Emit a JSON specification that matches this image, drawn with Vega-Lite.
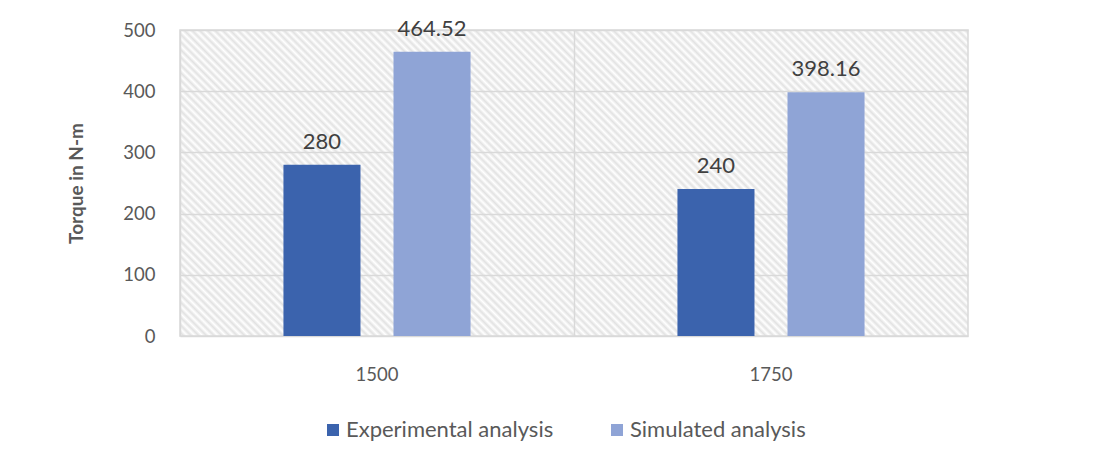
{
  "$schema": "https://vega.github.io/schema/vega-lite/v6.json",
  "width": 788,
  "height": 306,
  "autosize": {"type": "none"},
  "padding": {"left": 180, "top": 30, "right": 125, "bottom": 128},
  "background": "white",
  "view": {
    "stroke": "#d9d9d9",
    "strokeWidth": 1.5,
    "fill": {
      "gradient": "linear",
      "x1": 0, "y1": 1, "x2": 1.2064, "y2": 0.5311,
      "stops": [
        {"offset":0,"color":"#fff"},{"offset":0.0035,"color":"#e2e2e2"},
        {"offset":0.007,"color":"#fff"},{"offset":0.0105,"color":"#e2e2e2"},
        {"offset":0.014,"color":"#fff"},{"offset":0.0175,"color":"#e2e2e2"},
        {"offset":0.021,"color":"#fff"},{"offset":0.0245,"color":"#e2e2e2"},
        {"offset":0.028,"color":"#fff"},{"offset":0.0315,"color":"#e2e2e2"},
        {"offset":0.035,"color":"#fff"},{"offset":0.0385,"color":"#e2e2e2"},
        {"offset":0.042,"color":"#fff"},{"offset":0.0455,"color":"#e2e2e2"},
        {"offset":0.049,"color":"#fff"},{"offset":0.0525,"color":"#e2e2e2"},
        {"offset":0.056,"color":"#fff"},{"offset":0.0595,"color":"#e2e2e2"},
        {"offset":0.063,"color":"#fff"},{"offset":0.0665,"color":"#e2e2e2"},
        {"offset":0.07,"color":"#fff"},{"offset":0.0735,"color":"#e2e2e2"},
        {"offset":0.077,"color":"#fff"},{"offset":0.0805,"color":"#e2e2e2"},
        {"offset":0.084,"color":"#fff"},{"offset":0.0875,"color":"#e2e2e2"},
        {"offset":0.091,"color":"#fff"},{"offset":0.0945,"color":"#e2e2e2"},
        {"offset":0.098,"color":"#fff"},{"offset":0.1015,"color":"#e2e2e2"},
        {"offset":0.105,"color":"#fff"},{"offset":0.1085,"color":"#e2e2e2"},
        {"offset":0.112,"color":"#fff"},{"offset":0.1155,"color":"#e2e2e2"},
        {"offset":0.119,"color":"#fff"},{"offset":0.1225,"color":"#e2e2e2"},
        {"offset":0.126,"color":"#fff"},{"offset":0.1295,"color":"#e2e2e2"},
        {"offset":0.133,"color":"#fff"},{"offset":0.1365,"color":"#e2e2e2"},
        {"offset":0.14,"color":"#fff"},{"offset":0.1435,"color":"#e2e2e2"},
        {"offset":0.147,"color":"#fff"},{"offset":0.1505,"color":"#e2e2e2"},
        {"offset":0.154,"color":"#fff"},{"offset":0.1575,"color":"#e2e2e2"},
        {"offset":0.161,"color":"#fff"},{"offset":0.1645,"color":"#e2e2e2"},
        {"offset":0.168,"color":"#fff"},{"offset":0.1715,"color":"#e2e2e2"},
        {"offset":0.175,"color":"#fff"},{"offset":0.1785,"color":"#e2e2e2"},
        {"offset":0.182,"color":"#fff"},{"offset":0.1855,"color":"#e2e2e2"},
        {"offset":0.189,"color":"#fff"},{"offset":0.1925,"color":"#e2e2e2"},
        {"offset":0.196,"color":"#fff"},{"offset":0.1995,"color":"#e2e2e2"},
        {"offset":0.203,"color":"#fff"},{"offset":0.2065,"color":"#e2e2e2"},
        {"offset":0.21,"color":"#fff"},{"offset":0.2135,"color":"#e2e2e2"},
        {"offset":0.217,"color":"#fff"},{"offset":0.2205,"color":"#e2e2e2"},
        {"offset":0.224,"color":"#fff"},{"offset":0.2275,"color":"#e2e2e2"},
        {"offset":0.231,"color":"#fff"},{"offset":0.2345,"color":"#e2e2e2"},
        {"offset":0.238,"color":"#fff"},{"offset":0.2415,"color":"#e2e2e2"},
        {"offset":0.245,"color":"#fff"},{"offset":0.2485,"color":"#e2e2e2"},
        {"offset":0.252,"color":"#fff"},{"offset":0.2555,"color":"#e2e2e2"},
        {"offset":0.259,"color":"#fff"},{"offset":0.2625,"color":"#e2e2e2"},
        {"offset":0.266,"color":"#fff"},{"offset":0.2695,"color":"#e2e2e2"},
        {"offset":0.273,"color":"#fff"},{"offset":0.2765,"color":"#e2e2e2"},
        {"offset":0.28,"color":"#fff"},{"offset":0.2835,"color":"#e2e2e2"},
        {"offset":0.287,"color":"#fff"},{"offset":0.2905,"color":"#e2e2e2"},
        {"offset":0.294,"color":"#fff"},{"offset":0.2975,"color":"#e2e2e2"},
        {"offset":0.301,"color":"#fff"},{"offset":0.3045,"color":"#e2e2e2"},
        {"offset":0.308,"color":"#fff"},{"offset":0.3115,"color":"#e2e2e2"},
        {"offset":0.315,"color":"#fff"},{"offset":0.3185,"color":"#e2e2e2"},
        {"offset":0.322,"color":"#fff"},{"offset":0.3255,"color":"#e2e2e2"},
        {"offset":0.329,"color":"#fff"},{"offset":0.3325,"color":"#e2e2e2"},
        {"offset":0.336,"color":"#fff"},{"offset":0.3395,"color":"#e2e2e2"},
        {"offset":0.343,"color":"#fff"},{"offset":0.3465,"color":"#e2e2e2"},
        {"offset":0.35,"color":"#fff"},{"offset":0.3535,"color":"#e2e2e2"},
        {"offset":0.357,"color":"#fff"},{"offset":0.3605,"color":"#e2e2e2"},
        {"offset":0.364,"color":"#fff"},{"offset":0.3675,"color":"#e2e2e2"},
        {"offset":0.371,"color":"#fff"},{"offset":0.3745,"color":"#e2e2e2"},
        {"offset":0.378,"color":"#fff"},{"offset":0.3815,"color":"#e2e2e2"},
        {"offset":0.385,"color":"#fff"},{"offset":0.3885,"color":"#e2e2e2"},
        {"offset":0.392,"color":"#fff"},{"offset":0.3955,"color":"#e2e2e2"},
        {"offset":0.399,"color":"#fff"},{"offset":0.4025,"color":"#e2e2e2"},
        {"offset":0.406,"color":"#fff"},{"offset":0.4095,"color":"#e2e2e2"},
        {"offset":0.413,"color":"#fff"},{"offset":0.4165,"color":"#e2e2e2"},
        {"offset":0.42,"color":"#fff"},{"offset":0.4235,"color":"#e2e2e2"},
        {"offset":0.427,"color":"#fff"},{"offset":0.4305,"color":"#e2e2e2"},
        {"offset":0.434,"color":"#fff"},{"offset":0.4375,"color":"#e2e2e2"},
        {"offset":0.441,"color":"#fff"},{"offset":0.4445,"color":"#e2e2e2"},
        {"offset":0.448,"color":"#fff"},{"offset":0.4515,"color":"#e2e2e2"},
        {"offset":0.455,"color":"#fff"},{"offset":0.4585,"color":"#e2e2e2"},
        {"offset":0.462,"color":"#fff"},{"offset":0.4655,"color":"#e2e2e2"},
        {"offset":0.469,"color":"#fff"},{"offset":0.4725,"color":"#e2e2e2"},
        {"offset":0.476,"color":"#fff"},{"offset":0.4795,"color":"#e2e2e2"},
        {"offset":0.483,"color":"#fff"},{"offset":0.4865,"color":"#e2e2e2"},
        {"offset":0.49,"color":"#fff"},{"offset":0.4935,"color":"#e2e2e2"},
        {"offset":0.497,"color":"#fff"},{"offset":0.5005,"color":"#e2e2e2"},
        {"offset":0.504,"color":"#fff"},{"offset":0.5075,"color":"#e2e2e2"},
        {"offset":0.511,"color":"#fff"},{"offset":0.5145,"color":"#e2e2e2"},
        {"offset":0.518,"color":"#fff"},{"offset":0.5215,"color":"#e2e2e2"},
        {"offset":0.525,"color":"#fff"},{"offset":0.5285,"color":"#e2e2e2"},
        {"offset":0.532,"color":"#fff"},{"offset":0.5355,"color":"#e2e2e2"},
        {"offset":0.539,"color":"#fff"},{"offset":0.5425,"color":"#e2e2e2"},
        {"offset":0.546,"color":"#fff"},{"offset":0.5495,"color":"#e2e2e2"},
        {"offset":0.553,"color":"#fff"},{"offset":0.5565,"color":"#e2e2e2"},
        {"offset":0.56,"color":"#fff"},{"offset":0.5635,"color":"#e2e2e2"},
        {"offset":0.567,"color":"#fff"},{"offset":0.5705,"color":"#e2e2e2"},
        {"offset":0.574,"color":"#fff"},{"offset":0.5775,"color":"#e2e2e2"},
        {"offset":0.581,"color":"#fff"},{"offset":0.5845,"color":"#e2e2e2"},
        {"offset":0.588,"color":"#fff"},{"offset":0.5915,"color":"#e2e2e2"},
        {"offset":0.595,"color":"#fff"},{"offset":0.5985,"color":"#e2e2e2"},
        {"offset":0.602,"color":"#fff"},{"offset":0.6055,"color":"#e2e2e2"},
        {"offset":0.609,"color":"#fff"},{"offset":0.6125,"color":"#e2e2e2"},
        {"offset":0.616,"color":"#fff"},{"offset":0.6195,"color":"#e2e2e2"},
        {"offset":0.623,"color":"#fff"},{"offset":0.6265,"color":"#e2e2e2"},
        {"offset":0.63,"color":"#fff"},{"offset":0.6335,"color":"#e2e2e2"},
        {"offset":0.637,"color":"#fff"},{"offset":0.6405,"color":"#e2e2e2"},
        {"offset":0.644,"color":"#fff"},{"offset":0.6475,"color":"#e2e2e2"},
        {"offset":0.651,"color":"#fff"},{"offset":0.6545,"color":"#e2e2e2"},
        {"offset":0.658,"color":"#fff"},{"offset":0.6615,"color":"#e2e2e2"},
        {"offset":0.665,"color":"#fff"},{"offset":0.6685,"color":"#e2e2e2"},
        {"offset":0.672,"color":"#fff"},{"offset":0.6755,"color":"#e2e2e2"},
        {"offset":0.679,"color":"#fff"},{"offset":0.6825,"color":"#e2e2e2"},
        {"offset":0.686,"color":"#fff"},{"offset":0.6895,"color":"#e2e2e2"},
        {"offset":0.693,"color":"#fff"},{"offset":0.6965,"color":"#e2e2e2"},
        {"offset":0.7,"color":"#fff"},{"offset":0.7035,"color":"#e2e2e2"},
        {"offset":0.707,"color":"#fff"},{"offset":0.7105,"color":"#e2e2e2"},
        {"offset":0.714,"color":"#fff"},{"offset":0.7175,"color":"#e2e2e2"},
        {"offset":0.721,"color":"#fff"},{"offset":0.7245,"color":"#e2e2e2"},
        {"offset":0.728,"color":"#fff"},{"offset":0.7315,"color":"#e2e2e2"},
        {"offset":0.735,"color":"#fff"},{"offset":0.7385,"color":"#e2e2e2"},
        {"offset":0.742,"color":"#fff"},{"offset":0.7455,"color":"#e2e2e2"},
        {"offset":0.749,"color":"#fff"},{"offset":0.7525,"color":"#e2e2e2"},
        {"offset":0.756,"color":"#fff"},{"offset":0.7595,"color":"#e2e2e2"},
        {"offset":0.763,"color":"#fff"},{"offset":0.7665,"color":"#e2e2e2"},
        {"offset":0.77,"color":"#fff"},{"offset":0.7735,"color":"#e2e2e2"},
        {"offset":0.777,"color":"#fff"},{"offset":0.7805,"color":"#e2e2e2"},
        {"offset":0.784,"color":"#fff"},{"offset":0.7875,"color":"#e2e2e2"},
        {"offset":0.791,"color":"#fff"},{"offset":0.7945,"color":"#e2e2e2"},
        {"offset":0.798,"color":"#fff"},{"offset":0.8015,"color":"#e2e2e2"},
        {"offset":0.805,"color":"#fff"},{"offset":0.8085,"color":"#e2e2e2"},
        {"offset":0.812,"color":"#fff"},{"offset":0.8155,"color":"#e2e2e2"},
        {"offset":0.819,"color":"#fff"},{"offset":0.8225,"color":"#e2e2e2"},
        {"offset":0.826,"color":"#fff"},{"offset":0.8295,"color":"#e2e2e2"},
        {"offset":0.833,"color":"#fff"},{"offset":0.8365,"color":"#e2e2e2"},
        {"offset":0.84,"color":"#fff"},{"offset":0.8435,"color":"#e2e2e2"},
        {"offset":0.847,"color":"#fff"},{"offset":0.8505,"color":"#e2e2e2"},
        {"offset":0.854,"color":"#fff"},{"offset":0.8575,"color":"#e2e2e2"},
        {"offset":0.861,"color":"#fff"},{"offset":0.8645,"color":"#e2e2e2"},
        {"offset":0.868,"color":"#fff"},{"offset":0.8715,"color":"#e2e2e2"},
        {"offset":0.875,"color":"#fff"},{"offset":0.8785,"color":"#e2e2e2"},
        {"offset":0.882,"color":"#fff"},{"offset":0.8855,"color":"#e2e2e2"},
        {"offset":0.889,"color":"#fff"},{"offset":0.8925,"color":"#e2e2e2"},
        {"offset":0.896,"color":"#fff"},{"offset":0.8995,"color":"#e2e2e2"},
        {"offset":0.903,"color":"#fff"},{"offset":0.9065,"color":"#e2e2e2"},
        {"offset":0.91,"color":"#fff"},{"offset":0.9135,"color":"#e2e2e2"},
        {"offset":0.917,"color":"#fff"},{"offset":0.9205,"color":"#e2e2e2"},
        {"offset":0.924,"color":"#fff"},{"offset":0.9275,"color":"#e2e2e2"},
        {"offset":0.931,"color":"#fff"},{"offset":0.9345,"color":"#e2e2e2"},
        {"offset":0.938,"color":"#fff"},{"offset":0.9415,"color":"#e2e2e2"},
        {"offset":0.945,"color":"#fff"},{"offset":0.9485,"color":"#e2e2e2"},
        {"offset":0.952,"color":"#fff"},{"offset":0.9555,"color":"#e2e2e2"},
        {"offset":0.959,"color":"#fff"},{"offset":0.9625,"color":"#e2e2e2"},
        {"offset":0.966,"color":"#fff"},{"offset":0.9695,"color":"#e2e2e2"},
        {"offset":0.973,"color":"#fff"},{"offset":0.9765,"color":"#e2e2e2"},
        {"offset":0.98,"color":"#fff"},{"offset":0.9835,"color":"#e2e2e2"},
        {"offset":0.987,"color":"#fff"},{"offset":0.9905,"color":"#e2e2e2"},
        {"offset":0.994,"color":"#fff"},{"offset":0.9975,"color":"#e2e2e2"},
        {"offset":1,"color":"#fff"}
      ]
    }
  },
  "data": {
    "values": [
      {"speed": "1500", "series": "Experimental analysis", "torque": 280},
      {"speed": "1500", "series": "Simulated analysis", "torque": 464.52},
      {"speed": "1750", "series": "Experimental analysis", "torque": 240},
      {"speed": "1750", "series": "Simulated analysis", "torque": 398.16}
    ]
  },
  "encoding": {
    "x": {
      "field": "speed",
      "type": "nominal",
      "scale": {"paddingInner": 0, "paddingOuter": 0},
      "axis": {
        "title": null,
        "labelAngle": 0,
        "labelFont": "Lato",
        "labelFontSize": 18.5,
        "labelColor": "#595959",
        "labelPadding": 29,
        "ticks": false,
        "domain": false,
        "grid": true,
        "bandPosition": 0,
        "gridColor": "#d9d9d9",
        "gridWidth": 1.5
      }
    },
    "xOffset": {
      "field": "series",
      "type": "nominal",
      "scale": {"paddingInner": 0.3, "paddingOuter": 0.94}
    },
    "y": {
      "field": "torque",
      "type": "quantitative",
      "scale": {"domain": [0, 500], "nice": false},
      "axis": {
        "values": [0, 100, 200, 300, 400, 500],
        "title": "Torque in N-m",
        "titleFont": "Lato",
        "titleFontSize": 19,
        "titleFontWeight": "bold",
        "titleColor": "#595959",
        "titlePadding": 36,
        "labelFont": "Lato",
        "labelFontSize": 18.5,
        "labelColor": "#595959",
        "labelPadding": 25,
        "ticks": false,
        "domain": false,
        "grid": true,
        "gridColor": "#d9d9d9",
        "gridWidth": 1.5
      }
    }
  },
  "layer": [
    {
      "mark": {"type": "bar"},
      "encoding": {
        "color": {
          "field": "series",
          "type": "nominal",
          "scale": {
            "domain": ["Experimental analysis", "Simulated analysis"],
            "range": ["#3b63ad", "#8fa4d6"]
          },
          "legend": {
            "title": null,
            "orient": "none",
            "direction": "horizontal",
            "legendX": 142,
            "legendY": 389,
            "padding": 0,
            "symbolType": "square",
            "symbolSize": 144,
            "symbolStrokeWidth": 0,
            "labelFont": "Lato",
            "labelFontSize": 22,
            "labelColor": "#595959",
            "labelOffset": 2,
            "labelLimit": 0,
            "columnPadding": 52
          }
        }
      }
    },
    {
      "mark": {
        "type": "text",
        "baseline": "alphabetic",
        "dy": -16,
        "font": "Lato",
        "fontSize": 22,
        "color": "#404040"
      },
      "encoding": {
        "text": {"field": "torque", "type": "quantitative", "format": "~r"}
      }
    }
  ]
}
